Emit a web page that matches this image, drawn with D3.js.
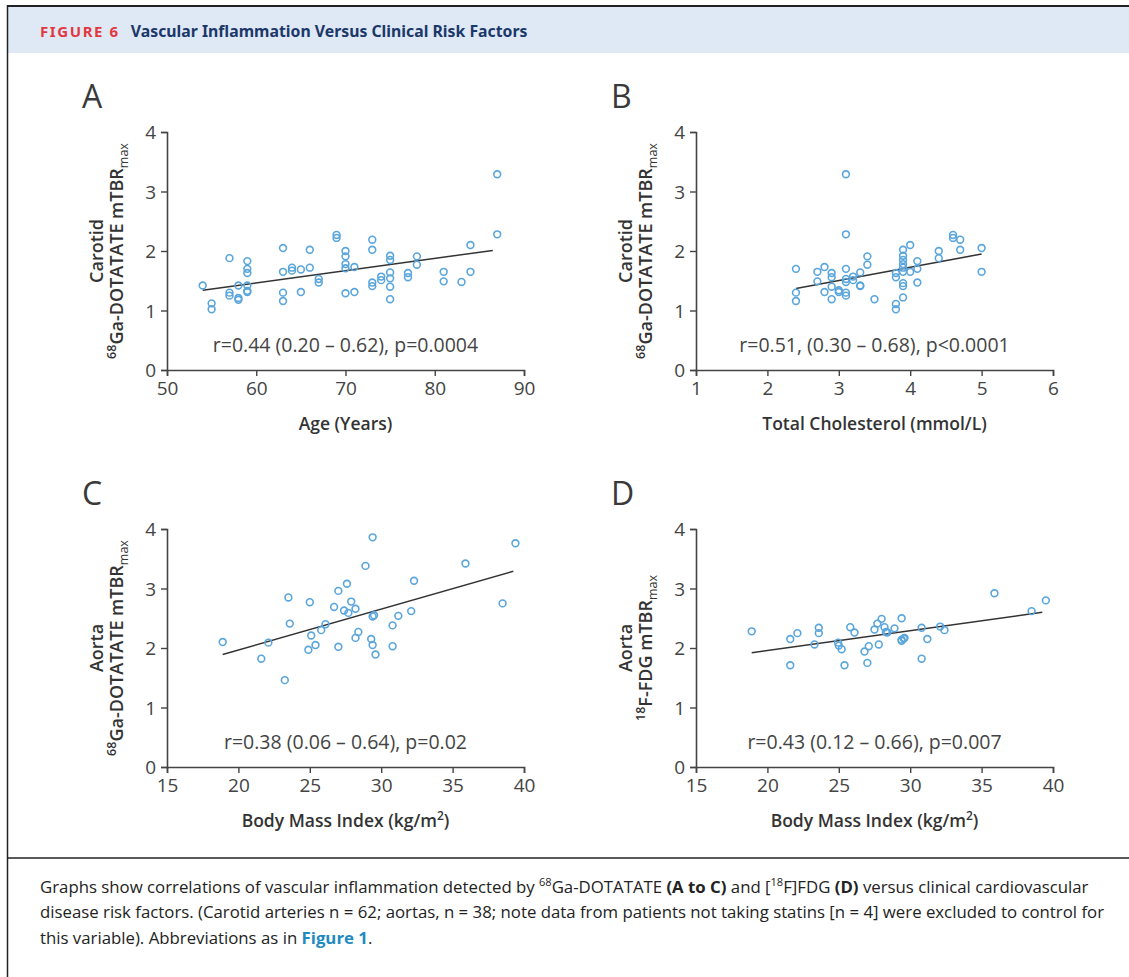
<!DOCTYPE html>
<html>
<head>
<meta charset="utf-8">
<script src="https://cdn.jsdelivr.net/npm/d3@7"></script>
<style>
  body { margin: 0; background: #fff; }
  svg { display: block; font-family: "Open Sans", "Noto Sans", sans-serif; }
</style>
</head>
<body>
<svg id="fig" width="1129" height="977"></svg>
<script>
'use strict'

// Panel A: age vs carotid 68Ga-DOTATATE mTBRmax
const ageA = [54, 55, 55, 57, 57, 57, 58, 58, 58, 59, 59, 59, 59, 59, 59, 63, 63, 63, 63, 64, 64, 65, 65, 66, 66,
  67, 67, 69, 69, 70, 70, 70, 70, 70, 71, 71, 73, 73, 73, 73, 74, 74, 75, 75, 75, 75, 75, 75, 77, 77, 78, 78,
  81, 81, 83, 84, 84, 87, 87]
const valA = [1.42, 1.12, 1.02, 1.88, 1.30, 1.25, 1.42, 1.21, 1.18, 1.83, 1.70, 1.63, 1.42, 1.33, 1.31, 2.05, 1.65, 1.30, 1.16, 1.72, 1.67, 1.69, 1.31, 2.02, 1.72,
  1.53, 1.47, 2.27, 2.22, 2.00, 1.91, 1.78, 1.71, 1.29, 1.73, 1.31, 2.19, 2.02, 1.47, 1.41, 1.57, 1.51, 1.92, 1.85, 1.64, 1.54, 1.40, 1.19, 1.63, 1.56, 1.91, 1.77,
  1.65, 1.49, 1.48, 2.10, 1.65, 3.29, 2.28]
const fitA = [[54, 1.34], [86.5, 2.01]]

// Panel B: total cholesterol vs carotid 68Ga-DOTATATE mTBRmax
const cholB = [2.4, 2.4, 2.4, 2.7, 2.7, 2.8, 2.8, 2.9, 2.9, 2.9, 2.9, 3.0, 3.0, 3.1, 3.1, 3.1, 3.1, 3.1, 3.1, 3.1,
  3.2, 3.2, 3.3, 3.3, 3.3, 3.4, 3.4, 3.5, 3.8, 3.8, 3.8, 3.8, 3.9, 3.9, 3.9, 3.9, 3.9, 3.9, 3.9, 3.9, 3.9,
  4.0, 4.0, 4.1, 4.1, 4.1, 4.4, 4.4, 4.6, 4.6, 4.7, 4.7, 5.0, 5.0]
const valB = [1.70, 1.30, 1.16, 1.65, 1.49, 1.73, 1.31, 1.63, 1.56, 1.40, 1.19, 1.34, 1.31, 3.29, 2.28, 1.70, 1.53, 1.48, 1.30, 1.25,
  1.57, 1.51, 1.64, 1.42, 1.41, 1.91, 1.77, 1.19, 1.63, 1.56, 1.11, 1.02, 2.02, 1.92, 1.85, 1.78, 1.72, 1.65, 1.46, 1.41, 1.22,
  2.10, 1.65, 1.83, 1.70, 1.47, 2.00, 1.88, 2.27, 2.22, 2.19, 2.02, 2.05, 1.65]
const fitB = [[2.4, 1.37], [5.0, 1.95]]

// Panel C: BMI vs aortic 68Ga-DOTATATE mTBRmax
const bmiC = [18.9, 21.6, 22.1, 23.25, 23.5, 23.6, 25.0, 24.9, 25.1, 25.4, 25.8, 26.1, 26.7, 27.0, 27.0, 27.4, 27.6, 27.7, 27.9,
  28.2, 28.2, 28.4, 28.9, 29.3, 29.4, 29.4, 29.4, 29.5, 29.6, 30.8, 30.8, 31.2, 32.1, 32.3, 35.9, 38.5, 39.4]
const valC = [2.10, 1.82, 2.09, 1.46, 2.85, 2.41, 2.77, 1.97, 2.21, 2.05, 2.30, 2.40, 2.69, 2.96, 2.02, 2.63, 3.08, 2.59, 2.78,
  2.66, 2.17, 2.27, 3.38, 2.15, 2.05, 3.86, 2.53, 2.55, 1.89, 2.38, 2.03, 2.54, 2.62, 3.13, 3.42, 2.75, 3.76]
const fitC = [[18.9, 1.89], [39.25, 3.29]]

// Panel D: BMI vs aortic 18F-FDG mTBRmax
const bmiD = [18.9, 21.6, 21.6, 22.1, 23.3, 23.6, 23.6, 24.95, 25.0, 25.2, 25.4, 25.8, 26.1, 26.8, 27.0, 27.1, 27.5, 27.7, 27.8,
  28.0, 28.2, 28.3, 28.4, 28.9, 29.4, 29.4, 29.4, 29.55, 29.6, 30.8, 30.8, 31.2, 32.1, 32.4, 35.9, 38.5, 39.5]
const valD = [2.28, 2.15, 1.71, 2.25, 2.06, 2.34, 2.25, 2.09, 2.04, 1.98, 1.71, 2.35, 2.26, 1.94, 1.75, 2.03, 2.31, 2.41, 2.06,
  2.49, 2.35, 2.27, 2.26, 2.33, 2.50, 2.12, 2.14, 2.16, 2.17, 2.34, 1.82, 2.15, 2.36, 2.30, 2.92, 2.62, 2.80]
const fitD = [[18.9, 1.92], [39.25, 2.60]]

const yTicks = [0, 1, 2, 3, 4]

const svg = d3.select('#fig')

// FRAME + HEADER
svg.append('rect').attr('x', 8).attr('y', 6).attr('width', 1121).attr('height', 47).attr('fill', '#dee9f5')
svg.append('line').attr('x1', 7).attr('x2', 1129).attr('y1', 6).attr('y2', 6).attr('stroke', '#222').attr('stroke-width', 2)
svg.append('line').attr('x1', 7.5).attr('x2', 7.5).attr('y1', 5).attr('y2', 977).attr('stroke', '#222').attr('stroke-width', 1.5)
svg.append('line').attr('x1', 7).attr('x2', 1129).attr('y1', 858).attr('y2', 858).attr('stroke', '#222').attr('stroke-width', 1.5)

const title = svg.append('text').attr('x', 40).attr('y', 37)
  .style('font-family', '"Noto Sans", sans-serif').style('font-weight', 700)
title.append('tspan').attr('fill', '#e2373f').style('font-size', '15px').style('letter-spacing', '1.6px').text('FIGURE 6')
title.append('tspan').attr('dx', 11).attr('fill', '#1c3769').style('font-size', '15.8px').text('Vascular Inflammation Versus Clinical Risk Factors')

// CAPTION
const caption = svg.append('g').style('font-size', '16.8px').attr('fill', '#222')
  .style('font-family', '"Open Sans", sans-serif')
const c1 = caption.append('text').attr('x', 40).attr('y', 893)
c1.append('tspan').text('Graphs show correlations of vascular inflammation detected by ')
c1.append('tspan').style('font-size', '11px').attr('dy', -7).text('68')
c1.append('tspan').attr('dy', 7).text('Ga-DOTATATE ')
c1.append('tspan').style('font-weight', 700).text('(A to C)')
c1.append('tspan').text(' and [')
c1.append('tspan').style('font-size', '11px').attr('dy', -7).text('18')
c1.append('tspan').attr('dy', 7).text('F]FDG ')
c1.append('tspan').style('font-weight', 700).text('(D)')
c1.append('tspan').text(' versus clinical cardiovascular')
caption.append('text').attr('x', 40).attr('y', 918)
  .text('disease risk factors. (Carotid arteries n = 62; aortas, n = 38; note data from patients not taking statins [n = 4] were excluded to control for')
const c3 = caption.append('text').attr('x', 40).attr('y', 944)
c3.append('tspan').text('this variable). Abbreviations as in ')
c3.append('tspan').style('font-weight', 700).attr('fill', '#1f8ac0').text('Figure 1')
c3.append('tspan').text('.')

// PANELS
const panels = [
  { letter: 'A', left: 167, top: 132, xs: ageA, ys: valA, fit: fitA, domain: [50, 90], ticks: [50, 60, 70, 80, 90],
    ytitle1: 'Carotid', tracer: ['68', 'Ga-DOTATATE mTBR'], xtitle: ['Age (Years)'], stat: 'r=0.44 (0.20 \u2013 0.62), p=0.0004' },
  { letter: 'B', left: 696, top: 132, xs: cholB, ys: valB, fit: fitB, domain: [1, 6], ticks: [1, 2, 3, 4, 5, 6],
    ytitle1: 'Carotid', tracer: ['68', 'Ga-DOTATATE mTBR'], xtitle: ['Total Cholesterol (mmol/L)'], stat: 'r=0.51, (0.30 \u2013 0.68), p<0.0001' },
  { letter: 'C', left: 167, top: 529, xs: bmiC, ys: valC, fit: fitC, domain: [15, 40], ticks: [15, 20, 25, 30, 35, 40],
    ytitle1: 'Aorta', tracer: ['68', 'Ga-DOTATATE mTBR'], xtitle: ['Body Mass Index (kg/m', ')'], stat: 'r=0.38 (0.06 \u2013 0.64), p=0.02' },
  { letter: 'D', left: 696, top: 529, xs: bmiD, ys: valD, fit: fitD, domain: [15, 40], ticks: [15, 20, 25, 30, 35, 40],
    ytitle1: 'Aorta', tracer: ['18', 'F-FDG mTBR'], xtitle: ['Body Mass Index (kg/m', ')'], stat: 'r=0.43 (0.12 \u2013 0.66), p=0.007' }
]

const W = 357, H = 238

panels.forEach(p => {
  const g = svg.append('g').attr('transform', `translate(${p.left},${p.top})`)
  const x = d3.scaleLinear().domain(p.domain).range([0, W])
  const y = d3.scaleLinear().domain([0, 4]).range([H, 0])

  g.append('text').attr('x', -85).attr('y', -24).attr('fill', '#3a3a3a')
    .style('font-size', '32px').text(p.letter)

  const xa = g.append('g').attr('transform', `translate(0,${H})`)
    .call(d3.axisBottom(x).tickValues(p.ticks).tickSize(6).tickPadding(6).tickFormat(d3.format('d')))
  const ya = g.append('g')
    .call(d3.axisLeft(y).tickValues(yTicks).tickSize(6).tickPadding(5).tickFormat(d3.format('d')))
  ;[xa, ya].forEach(a => {
    a.select('.domain').attr('stroke', '#444').attr('stroke-width', 1.6)
    a.selectAll('.tick line').attr('stroke', '#444').attr('stroke-width', 1.4)
    a.selectAll('.tick text').attr('fill', '#444').style('font-size', '19px').style('font-family', '"Open Sans", sans-serif')
  })
  ya.selectAll('.tick text').attr('dy', '0.36em')

  // axis titles
  const xt = g.append('text').attr('x', W / 2).attr('y', H + 60).attr('text-anchor', 'middle')
    .attr('fill', '#333').style('font-size', '17.5px').style('font-weight', 600)
  xt.append('tspan').text(p.xtitle[0])
  if (p.xtitle.length > 1) {
    xt.append('tspan').style('font-size', '12px').attr('dy', -7).text('2')
    xt.append('tspan').attr('dy', 7).text(p.xtitle[1])
  }

  const yt = g.append('g').attr('transform', `translate(-54,${H / 2}) rotate(-90)`)
    .attr('fill', '#333').style('font-size', '18px').style('font-weight', 600)
  yt.append('text').attr('x', 0).attr('y', -10).attr('text-anchor', 'middle').text(p.ytitle1)
  const t2 = yt.append('text').attr('x', 0).attr('y', 10).attr('text-anchor', 'middle')
  t2.append('tspan').style('font-size', '12.5px').attr('dy', -7).text(p.tracer[0])
  t2.append('tspan').attr('dy', 7).text(p.tracer[1])
  t2.append('tspan').style('font-size', '12.5px').style('font-weight', 400).attr('dy', 5).text('max')

  // fit line
  g.append('path').datum(p.fit)
    .attr('d', d3.line().x(d => x(d[0])).y(d => y(d[1])))
    .attr('fill', 'none').attr('stroke', '#333').attr('stroke-width', 1.5)

  // points
  g.selectAll('circle').data(p.xs.map((v, i) => [v, p.ys[i]]))
    .join('circle')
      .attr('cx', d => x(d[0]))
      .attr('cy', d => y(d[1]))
      .attr('r', 3.4)
      .attr('fill', 'none')
      .attr('stroke', '#5aa6dc')
      .attr('stroke-width', 1.6)

  g.append('text').attr('x', W / 2).attr('y', H - 18).attr('text-anchor', 'middle')
    .attr('fill', '#444').style('font-size', '19.5px').text(p.stat)
})
</script>
</body>
</html>
